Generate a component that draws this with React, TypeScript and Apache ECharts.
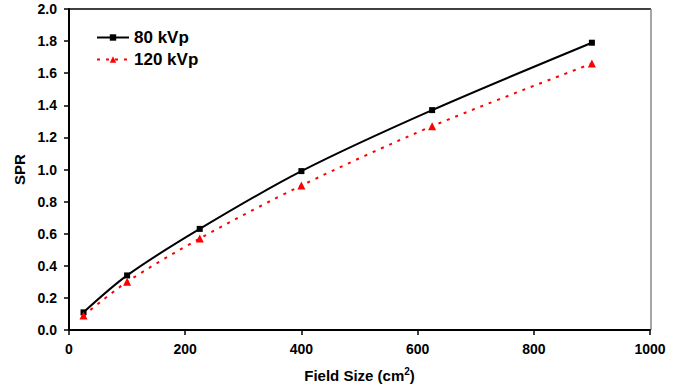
import React, { useEffect, useRef } from "react";
import * as echarts from "echarts";

const fieldSizes = [25, 100, 225, 400, 625, 900];
const spr80 = [0.11, 0.34, 0.63, 0.99, 1.37, 1.79];
const spr120 = [0.09, 0.3, 0.57, 0.9, 1.27, 1.66];
const seriesNames = ["80 kVp", "120 kVp"];

export default function App() {
  const ref = useRef<HTMLDivElement>(null);
  useEffect(() => {
    if (!ref.current) return;
    const chart = echarts.init(ref.current, null, { renderer: "svg" });
    const font = "Liberation Sans, Arial, sans-serif";
    chart.setOption({
      animation: false,
      backgroundColor: "#ffffff",
      grid: { left: 69, right: 33, top: 9, bottom: 58, containLabel: false, outerBoundsMode: "none" },
      legend: {
        orient: "vertical",
        left: 91,
        top: 24,
        itemWidth: 32,
        itemHeight: 8,
        itemGap: 5,
        textStyle: { fontFamily: font, fontWeight: "bold", fontSize: 17, color: "#000" },
        data: seriesNames,
      },
      graphic: [
        { type: "line", shape: { x1: 69, y1: 9, x2: 651, y2: 9 }, style: { stroke: "#000", lineWidth: 1.5 } },
        { type: "line", shape: { x1: 651, y1: 9, x2: 651, y2: 330 }, style: { stroke: "#888", lineWidth: 1.5 } },
      ],
      xAxis: {
        type: "value",
        min: 0,
        max: 1000,
        interval: 200,
        name: "Field Size (cm{sup|2})",
        nameLocation: "middle",
        nameGap: 36,
        nameTextStyle: {
          fontFamily: font,
          fontWeight: "bold",
          fontSize: 15,
          color: "#000",
          rich: { sup: { fontFamily: font, fontWeight: "bold", fontSize: 10, verticalAlign: "top", padding: [0, 0, 8, 0], color: "#000" } },
        },
        axisLine: { show: true, lineStyle: { color: "#000", width: 2 } },
        axisTick: { show: true, inside: false, length: 5, lineStyle: { color: "#000", width: 1.5 } },
        axisLabel: {
          fontFamily: font,
          fontWeight: "bold",
          fontSize: 14,
          color: "#000",
          margin: 12,
          formatter: (v: number) => String(v),
        },
        splitLine: { show: false },
      },
      yAxis: {
        type: "value",
        min: 0,
        max: 2,
        interval: 0.2,
        name: "SPR",
        nameLocation: "middle",
        nameGap: 41,
        nameTextStyle: { fontFamily: font, fontWeight: "bold", fontSize: 15, color: "#000" },
        axisLine: { show: true, lineStyle: { color: "#000", width: 2 } },
        axisTick: { show: true, inside: false, length: 5, lineStyle: { color: "#000", width: 1.5 } },
        axisLabel: {
          fontFamily: font,
          fontWeight: "bold",
          fontSize: 14,
          color: "#000",
          margin: 12,
          formatter: (v: number) => v.toFixed(1),
        },
        splitLine: { show: false },
      },
      series: [
        {
          name: seriesNames[0],
          type: "line",
          smooth: 0.3,
          data: fieldSizes.map((x, i) => [x, spr80[i]]),
          symbol: "rect",
          symbolSize: 6,
          itemStyle: { color: "#000" },
          lineStyle: { color: "#000", width: 2 },
        },
        {
          name: seriesNames[1],
          type: "line",
          smooth: 0.3,
          data: fieldSizes.map((x, i) => [x, spr120[i]]),
          symbol: "triangle",
          symbolSize: 8,
          itemStyle: { color: "#ff0000" },
          lineStyle: { color: "#ff0000", width: 2, type: [3, 6] },
        },
      ],
    });
    return () => chart.dispose();
  }, []);
  return <div ref={ref} style={{ width: 683, height: 388, position: "absolute", left: 0, top: 0 }} />;
}
